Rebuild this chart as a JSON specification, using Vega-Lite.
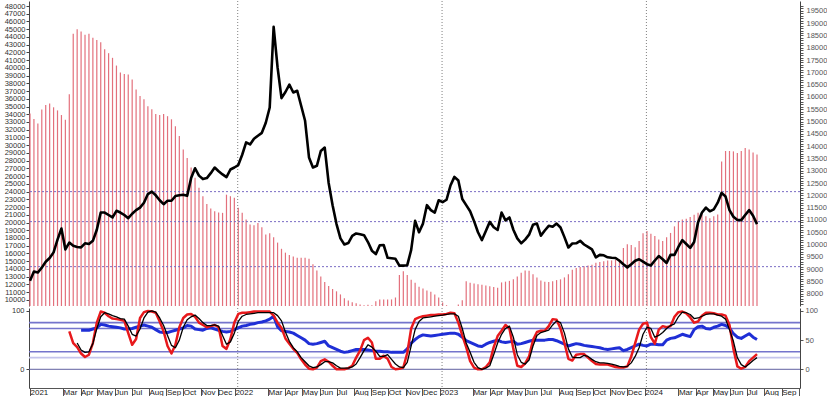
{
"$schema": "https://vega.github.io/schema/vega-lite/v6.json",
"padding": {"left": 4, "top": 0, "right": 0, "bottom": 0},
"background": "white",
"spacing": 2,
"bounds": "flush",
"config": {"view": {"stroke": null}, "font": "Liberation Sans", "axis": {"labelFont": "Liberation Sans", "grid": false, "title": null}},
"resolve": {"scale": {"x": "independent", "y": "independent"}},
"datasets": {
"w": [
{"d":"2021-01-01","v":34100,"p":8525},
{"d":"2021-01-08","v":33400,"p":8900},
{"d":"2021-01-15","v":32800,"p":8860},
{"d":"2021-01-22","v":34600,"p":9060},
{"d":"2021-01-29","v":35200,"p":9300},
{"d":"2021-02-05","v":35400,"p":9450},
{"d":"2021-02-12","v":34900,"p":9680},
{"d":"2021-02-19","v":34500,"p":10200},
{"d":"2021-02-26","v":33900,"p":10650},
{"d":"2021-03-05","v":33300,"p":9800},
{"d":"2021-03-12","v":36600,"p":10080,"r":65},
{"d":"2021-03-19","v":44400,"p":9950,"r":45},
{"d":"2021-03-26","v":45000,"p":9900,"r":38,"k":45},
{"d":"2021-04-02","v":44700,"p":9880,"r":27,"k":33,"b":67},
{"d":"2021-04-09","v":44300,"p":10050,"r":21,"k":29,"b":67},
{"d":"2021-04-16","v":44400,"p":10020,"r":25,"k":30,"b":67},
{"d":"2021-04-23","v":43900,"p":10150,"r":45,"k":44,"b":69},
{"d":"2021-04-30","v":43600,"p":10600,"r":80,"k":70,"b":71},
{"d":"2021-05-07","v":43300,"p":11300,"r":99,"k":90,"b":77},
{"d":"2021-05-14","v":42400,"p":11300,"r":97,"k":97,"b":76},
{"d":"2021-05-21","v":41900,"p":11200,"r":91,"k":95,"b":74},
{"d":"2021-05-28","v":41300,"p":11100,"r":87,"k":92,"b":73},
{"d":"2021-06-04","v":40300,"p":11370,"r":86,"k":90,"b":72},
{"d":"2021-06-11","v":39400,"p":11300,"r":85,"k":87,"b":71},
{"d":"2021-06-18","v":39200,"p":11200,"r":83,"k":86,"b":69},
{"d":"2021-06-25","v":39150,"p":11070,"r":62,"k":74,"b":69},
{"d":"2021-07-02","v":38500,"p":11250,"r":42,"k":60,"b":70},
{"d":"2021-07-09","v":37200,"p":11400,"r":52,"k":57,"b":72},
{"d":"2021-07-16","v":36350,"p":11500,"r":88,"k":69,"b":74},
{"d":"2021-07-23","v":35950,"p":11700,"r":98,"k":88,"b":76},
{"d":"2021-07-30","v":35050,"p":12050,"r":100,"k":98,"b":74},
{"d":"2021-08-06","v":34650,"p":12150,"r":99,"k":100,"b":72},
{"d":"2021-08-13","v":34050,"p":12000,"r":97,"k":98,"b":68},
{"d":"2021-08-20","v":33900,"p":11800,"r":82,"k":88,"b":64},
{"d":"2021-08-27","v":34050,"p":11640,"r":65,"k":75,"b":63},
{"d":"2021-09-03","v":33750,"p":11780,"r":40,"k":58,"b":63},
{"d":"2021-09-10","v":33350,"p":11780,"r":27,"k":41,"b":65},
{"d":"2021-09-17","v":32450,"p":11970,"r":42,"k":37,"b":67},
{"d":"2021-09-24","v":31200,"p":12000,"r":72,"k":50,"b":69},
{"d":"2021-10-01","v":29450,"p":12020,"r":88,"k":72,"b":71},
{"d":"2021-10-08","v":28350,"p":11980,"r":94,"k":85,"b":75},
{"d":"2021-10-15","v":27100,"p":12700,"r":95,"k":90,"b":74},
{"d":"2021-10-22","v":25800,"p":13100,"r":90,"k":93,"b":69},
{"d":"2021-10-29","v":24500,"p":12800,"r":80,"k":87,"b":68},
{"d":"2021-11-05","v":23400,"p":12660,"r":76,"k":80,"b":67},
{"d":"2021-11-12","v":22400,"p":12700,"r":72,"k":75,"b":70},
{"d":"2021-11-19","v":21800,"p":12900,"r":74,"k":75,"b":71},
{"d":"2021-11-26","v":21450,"p":13130,"r":76,"k":76,"b":69},
{"d":"2021-12-03","v":21300,"p":12980,"r":72,"k":74,"b":67},
{"d":"2021-12-10","v":21250,"p":12850,"r":40,"k":58,"b":65},
{"d":"2021-12-17","v":23600,"p":12740,"r":35,"k":43,"b":64},
{"d":"2021-12-24","v":23400,"p":13050,"r":52,"k":47,"b":65},
{"d":"2021-12-31","v":23200,"p":13130,"r":80,"k":62,"b":68},
{"d":"2022-01-07","v":21900,"p":13230,"r":95,"k":82,"b":71},
{"d":"2022-01-14","v":21250,"p":13650,"r":97,"k":91,"b":74},
{"d":"2022-01-21","v":20400,"p":14150,"r":97,"k":94,"b":75},
{"d":"2022-01-28","v":19750,"p":14070,"r":98,"k":95,"b":77},
{"d":"2022-02-04","v":19650,"p":14300,"r":99,"k":96,"b":78},
{"d":"2022-02-11","v":19950,"p":14420,"r":99,"k":97,"b":80},
{"d":"2022-02-18","v":19400,"p":14540,"r":99,"k":97,"b":81},
{"d":"2022-02-25","v":18450,"p":14950,"r":99,"k":97,"b":83},
{"d":"2022-03-04","v":18600,"p":15570,"r":99,"k":97,"b":86},
{"d":"2022-03-11","v":18100,"p":18850,"r":92,"k":97,"b":91},
{"d":"2022-03-18","v":17400,"p":17200,"r":80,"k":92,"b":73},
{"d":"2022-03-25","v":16600,"p":15950,"r":71,"k":83,"b":66},
{"d":"2022-04-01","v":16100,"p":16200,"r":53,"k":64,"b":65},
{"d":"2022-04-08","v":15800,"p":16500,"r":44,"k":48,"b":64},
{"d":"2022-04-15","v":15600,"p":16180,"r":35,"k":37,"b":62},
{"d":"2022-04-22","v":15450,"p":16250,"r":28,"k":30,"b":58},
{"d":"2022-04-29","v":15430,"p":15640,"r":17,"k":20,"b":54},
{"d":"2022-05-06","v":15430,"p":15030,"r":8,"k":13,"b":50},
{"d":"2022-05-13","v":15300,"p":13540,"r":1,"k":6,"b":44},
{"d":"2022-05-20","v":14600,"p":13130,"r":0,"k":3,"b":43},
{"d":"2022-05-27","v":13800,"p":13200,"r":3,"k":4,"b":44},
{"d":"2022-06-03","v":13000,"p":13800,"r":14,"k":8,"b":46},
{"d":"2022-06-10","v":12300,"p":13940,"r":17,"k":13,"b":48},
{"d":"2022-06-17","v":11800,"p":12500,"r":13,"k":13,"b":40},
{"d":"2022-06-24","v":11400,"p":11600,"r":6,"k":11,"b":37},
{"d":"2022-07-01","v":11100,"p":10830,"r":0,"k":6,"b":34},
{"d":"2022-07-08","v":10700,"p":10250,"r":0,"k":2,"b":31},
{"d":"2022-07-15","v":10200,"p":10000,"r":0,"k":2,"b":29},
{"d":"2022-07-22","v":9900,"p":10060,"r":2,"k":2,"b":30},
{"d":"2022-07-29","v":9700,"p":10350,"r":6,"k":4,"b":32},
{"d":"2022-08-05","v":9550,"p":10450,"r":20,"k":9,"b":34},
{"d":"2022-08-12","v":9400,"p":10420,"r":32,"k":20,"b":34},
{"d":"2022-08-19","v":9300,"p":10380,"r":50,"k":32,"b":34},
{"d":"2022-08-26","v":9350,"p":10100,"r":54,"k":42,"b":33},
{"d":"2022-09-02","v":9300,"p":9750,"r":46,"k":38,"b":32},
{"d":"2022-09-09","v":9800,"p":9610,"r":18,"k":31,"b":31},
{"d":"2022-09-16","v":10050,"p":9970,"r":18,"k":22,"b":31},
{"d":"2022-09-23","v":10050,"p":9980,"r":23,"k":22,"b":30},
{"d":"2022-09-30","v":10050,"p":9460,"r":18,"k":25,"b":30},
{"d":"2022-10-07","v":10050,"p":9440,"r":4,"k":17,"b":29},
{"d":"2022-10-14","v":10300,"p":9420,"r":0,"k":9,"b":29},
{"d":"2022-10-21","v":13200,"p":9140,"r":1,"k":4,"b":29},
{"d":"2022-10-28","v":13700,"p":9140,"r":3,"k":3,"b":29},
{"d":"2022-11-04","v":13200,"p":9160,"r":28,"k":12,"b":35},
{"d":"2022-11-11","v":12600,"p":9780,"r":70,"k":40,"b":45},
{"d":"2022-11-18","v":12200,"p":10960,"r":86,"k":68,"b":51},
{"d":"2022-11-25","v":11700,"p":10500,"r":89,"k":82,"b":56},
{"d":"2022-12-02","v":11450,"p":10850,"r":91,"k":88,"b":59},
{"d":"2022-12-09","v":11200,"p":11600,"r":92,"k":89,"b":58},
{"d":"2022-12-16","v":11050,"p":11400,"r":93,"k":90,"b":57},
{"d":"2022-12-23","v":10700,"p":11300,"r":93,"k":91,"b":58},
{"d":"2022-12-30","v":10300,"p":11800,"r":94,"k":92,"b":59},
{"d":"2023-01-06","v":9650,"p":11720,"r":94,"k":93,"b":60},
{"d":"2023-01-13","v":9300,"p":11820,"r":95,"k":94,"b":61},
{"d":"2023-01-20","v":9200,"p":12400,"r":97,"k":95,"b":62},
{"d":"2023-01-27","v":9200,"p":12750,"r":96,"k":95,"b":62},
{"d":"2023-02-03","v":9400,"p":12600,"r":80,"k":91,"b":60},
{"d":"2023-02-10","v":9950,"p":11850,"r":58,"k":70,"b":55},
{"d":"2023-02-17","v":12400,"p":11600,"r":38,"k":45,"b":49},
{"d":"2023-02-24","v":12200,"p":11350,"r":14,"k":29,"b":46},
{"d":"2023-03-03","v":12100,"p":10950,"r":3,"k":12,"b":43},
{"d":"2023-03-10","v":12000,"p":10500,"r":0,"k":3,"b":40},
{"d":"2023-03-17","v":11950,"p":10180,"r":0,"k":0,"b":39},
{"d":"2023-03-24","v":11850,"p":10550,"r":4,"k":2,"b":43},
{"d":"2023-03-31","v":11750,"p":10920,"r":12,"k":6,"b":46},
{"d":"2023-04-07","v":11650,"p":10700,"r":38,"k":25,"b":48},
{"d":"2023-04-14","v":11550,"p":10590,"r":57,"k":45,"b":50},
{"d":"2023-04-21","v":12250,"p":11300,"r":66,"k":60,"b":47},
{"d":"2023-04-28","v":12350,"p":10980,"r":76,"k":70,"b":46},
{"d":"2023-05-05","v":12450,"p":11100,"r":70,"k":74,"b":47},
{"d":"2023-05-12","v":12650,"p":10600,"r":35,"k":55,"b":48},
{"d":"2023-05-19","v":13000,"p":10250,"r":6,"k":25,"b":43},
{"d":"2023-05-26","v":13500,"p":10050,"r":4,"k":12,"b":44},
{"d":"2023-06-02","v":13800,"p":10200,"r":10,"k":9,"b":46},
{"d":"2023-06-09","v":13750,"p":10400,"r":22,"k":16,"b":48},
{"d":"2023-06-16","v":13300,"p":10800,"r":50,"k":40,"b":50},
{"d":"2023-06-23","v":12900,"p":10850,"r":64,"k":58,"b":50},
{"d":"2023-06-30","v":12500,"p":10360,"r":66,"k":63,"b":50},
{"d":"2023-07-07","v":12350,"p":10570,"r":66,"k":65,"b":50},
{"d":"2023-07-14","v":12300,"p":10760,"r":74,"k":67,"b":51},
{"d":"2023-07-21","v":12400,"p":10720,"r":86,"k":76,"b":51},
{"d":"2023-07-28","v":12550,"p":10850,"r":85,"k":83,"b":49},
{"d":"2023-08-04","v":12650,"p":10690,"r":70,"k":80,"b":46},
{"d":"2023-08-11","v":12900,"p":10300,"r":45,"k":62,"b":43},
{"d":"2023-08-18","v":13300,"p":9880,"r":18,"k":35,"b":40},
{"d":"2023-08-25","v":13900,"p":10040,"r":15,"k":21,"b":42},
{"d":"2023-09-01","v":14100,"p":10050,"r":25,"k":20,"b":44},
{"d":"2023-09-08","v":14250,"p":10150,"r":26,"k":20,"b":43},
{"d":"2023-09-15","v":14350,"p":10000,"r":26,"k":24,"b":41},
{"d":"2023-09-22","v":14450,"p":9900,"r":20,"k":22,"b":40},
{"d":"2023-09-29","v":14550,"p":9800,"r":14,"k":17,"b":39},
{"d":"2023-10-06","v":14800,"p":9480,"r":9,"k":13,"b":38},
{"d":"2023-10-13","v":14900,"p":9580,"r":8,"k":11,"b":37},
{"d":"2023-10-20","v":15000,"p":9560,"r":8,"k":11,"b":35},
{"d":"2023-10-27","v":15100,"p":9480,"r":8,"k":10,"b":34},
{"d":"2023-11-03","v":15100,"p":9460,"r":6,"k":9,"b":35},
{"d":"2023-11-10","v":15200,"p":9450,"r":4,"k":7,"b":36},
{"d":"2023-11-17","v":15250,"p":9340,"r":3,"k":5,"b":37},
{"d":"2023-11-24","v":16700,"p":9200,"r":3,"k":4,"b":32},
{"d":"2023-12-01","v":17200,"p":9070,"r":5,"k":5,"b":34},
{"d":"2023-12-08","v":17100,"p":9200,"r":22,"k":11,"b":37},
{"d":"2023-12-15","v":16800,"p":9340,"r":45,"k":22,"b":40},
{"d":"2023-12-22","v":17600,"p":9400,"r":68,"k":37,"b":43},
{"d":"2023-12-29","v":18600,"p":9300,"r":78,"k":60,"b":41},
{"d":"2024-01-05","v":18900,"p":9200,"r":80,"k":72,"b":40},
{"d":"2024-01-12","v":18550,"p":9150,"r":55,"k":70,"b":43},
{"d":"2024-01-19","v":18250,"p":9350,"r":44,"k":55,"b":43},
{"d":"2024-01-26","v":17800,"p":9530,"r":68,"k":58,"b":42},
{"d":"2024-02-02","v":17600,"p":9400,"r":74,"k":63,"b":42},
{"d":"2024-02-09","v":18100,"p":9250,"r":72,"k":70,"b":50},
{"d":"2024-02-16","v":18650,"p":9580,"r":74,"k":75,"b":53},
{"d":"2024-02-23","v":19500,"p":9580,"r":90,"k":78,"b":54},
{"d":"2024-03-01","v":20200,"p":9900,"r":98,"k":90,"b":57},
{"d":"2024-03-08","v":20400,"p":10180,"r":99,"k":98,"b":60},
{"d":"2024-03-15","v":20500,"p":10020,"r":96,"k":97,"b":58},
{"d":"2024-03-22","v":20700,"p":9860,"r":89,"k":94,"b":56},
{"d":"2024-03-29","v":21000,"p":10100,"r":80,"k":87,"b":68},
{"d":"2024-04-05","v":21250,"p":10900,"r":82,"k":88,"b":73},
{"d":"2024-04-12","v":21050,"p":11300,"r":92,"k":91,"b":74},
{"d":"2024-04-19","v":20800,"p":11500,"r":97,"k":94,"b":70},
{"d":"2024-04-26","v":20550,"p":11350,"r":97,"k":95,"b":69},
{"d":"2024-05-03","v":20800,"p":11430,"r":96,"k":95,"b":72},
{"d":"2024-05-10","v":21050,"p":11700,"r":94,"k":93,"b":74},
{"d":"2024-05-17","v":27900,"p":12100,"r":94,"k":91,"b":77},
{"d":"2024-05-24","v":29250,"p":11950,"r":92,"k":86,"b":75},
{"d":"2024-05-31","v":29250,"p":11400,"r":76,"k":68,"b":71},
{"d":"2024-06-07","v":29200,"p":11130,"r":35,"k":48,"b":61},
{"d":"2024-06-14","v":29000,"p":11000,"r":5,"k":20,"b":55},
{"d":"2024-06-21","v":29250,"p":10990,"r":1,"k":8,"b":53},
{"d":"2024-06-28","v":29650,"p":11200,"r":4,"k":4,"b":57},
{"d":"2024-07-05","v":29450,"p":11400,"r":14,"k":9,"b":61},
{"d":"2024-07-12","v":29050,"p":11170,"r":20,"k":15,"b":55},
{"d":"2024-07-19","v":28800,"p":10830,"r":26,"k":20,"b":51}
],
"yr": [{"d":"2022-01-06"},{"d":"2023-01-05"},{"d":"2024-01-04"}],
"ht": [{"y":12150},{"y":10930},{"y":9100}]
},
"vconcat": [
{
"width": 771, "height": 305,
"resolve": {"scale": {"y": "independent"}},
"layer": [
{"layer": [
{"data": {"name": "w"}, "mark": {"type": "rule", "color": "#e3707c", "strokeWidth": 1.2},
 "encoding": {
  "x": {"field": "d", "type": "temporal", "scale": {"type": "utc", "domain": [1609305408000, 1727965440000]}, "axis": null},
  "y": {"field": "v", "type": "quantitative", "scale": {"domain": [9200, 48650], "nice": false, "zero": false},
   "axis": {"orient": "left", "values": [10000,11000,12000,13000,14000,15000,16000,17000,18000,19000,20000,21000,22000,23000,24000,25000,26000,27000,28000,29000,30000,31000,32000,33000,34000,35000,36000,37000,38000,39000,40000,41000,42000,43000,44000,45000,46000,47000,48000],
    "format": "d", "labelFontSize": 7.5, "labelColor": "#333", "tickSize": 3, "tickColor": "#444", "domainColor": "#444", "labelPadding": 1, "labelOverlap": false, "labelFlush": false}},
  "y2": {"datum": 9200}}},
{"data": {"name": "yr"}, "mark": {"type": "rule", "color": "#808080", "strokeDash": [1, 2], "strokeWidth": 1},
 "encoding": {"x": {"field": "d", "type": "temporal", "axis": null}}}
]},
{"layer": [
{"data": {"name": "ht"}, "mark": {"type": "rule", "color": "#7a6cc4", "strokeDash": [2, 2], "strokeWidth": 1},
 "encoding": {"y": {"field": "y", "type": "quantitative", "scale": {"domain": [7500, 19900], "nice": false, "zero": false},
   "axis": {"orient": "right", "values": [7600,7700,7800,7900,8000,8100,8200,8300,8400,8500,8600,8700,8800,8900,9000,9100,9200,9300,9400,9500,9600,9700,9800,9900,10000,10100,10200,10300,10400,10500,10600,10700,10800,10900,11000,11100,11200,11300,11400,11500,11600,11700,11800,11900,12000,12100,12200,12300,12400,12500,12600,12700,12800,12900,13000,13100,13200,13300,13400,13500,13600,13700,13800,13900,14000,14100,14200,14300,14400,14500,14600,14700,14800,14900,15000,15100,15200,15300,15400,15500,15600,15700,15800,15900,16000,16100,16200,16300,16400,16500,16600,16700,16800,16900,17000,17100,17200,17300,17400,17500,17600,17700,17800,17900,18000,18100,18200,18300,18400,18500,18600,18700,18800,18900,19000,19100,19200,19300,19400,19500,19600,19700],
    "labelExpr": "datum.value % 500 === 0 ? format(datum.value, 'd') : ''",
    "tickSize": 3,
    "labelFontSize": 7.5, "labelColor": "#555", "tickColor": "#555", "domainColor": "#444", "labelPadding": 3, "labelOverlap": false, "labelFlush": false}}}},
{"data": {"name": "w"}, "mark": {"type": "line", "color": "#000000", "strokeWidth": 2.6, "strokeJoin": "round"},
 "encoding": {"x": {"field": "d", "type": "temporal", "axis": null}, "y": {"field": "p", "type": "quantitative",
   "axis": {"orient": "right", "values": [7600,7700,7800,7900,8000,8100,8200,8300,8400,8500,8600,8700,8800,8900,9000,9100,9200,9300,9400,9500,9600,9700,9800,9900,10000,10100,10200,10300,10400,10500,10600,10700,10800,10900,11000,11100,11200,11300,11400,11500,11600,11700,11800,11900,12000,12100,12200,12300,12400,12500,12600,12700,12800,12900,13000,13100,13200,13300,13400,13500,13600,13700,13800,13900,14000,14100,14200,14300,14400,14500,14600,14700,14800,14900,15000,15100,15200,15300,15400,15500,15600,15700,15800,15900,16000,16100,16200,16300,16400,16500,16600,16700,16800,16900,17000,17100,17200,17300,17400,17500,17600,17700,17800,17900,18000,18100,18200,18300,18400,18500,18600,18700,18800,18900,19000,19100,19200,19300,19400,19500,19600,19700],
    "labelExpr": "datum.value % 500 === 0 ? format(datum.value, 'd') : ''",
    "tickSize": 3,
    "labelFontSize": 7.5, "labelColor": "#555", "tickColor": "#555", "domainColor": "#444", "labelPadding": 3, "labelOverlap": false, "labelFlush": false}}}}
]}
]
},
{
"width": 771, "height": 80,
"resolve": {"scale": {"y": "independent"}},
"layer": [
{"layer": [
{"data": {"values": [{"y": 100}]}, "mark": {"type": "rule", "color": "#a8a8c8", "strokeWidth": 1},
 "encoding": {
  "x": {"field": "d", "type": "temporal", "scale": {"type": "utc", "domain": [1609305408000, 1727965440000]},
   "axis": {"orient": "bottom", "tickCount": {"interval": "month", "step": 1},
    "labelExpr": "utcmonth(datum.value) == 0 ? utcFormat(datum.value, '%Y') : ((utcmonth(datum.value) == 1 || datum.value > 1725148800000) ? '' : utcFormat(datum.value, '%b'))",
    "tickOpacity": {"condition": {"test": "utcmonth(datum.value) == 1", "value": 0}, "value": 1},
    "tickSize": 9, "tickColor": "#555", "domainColor": "#555", "labelAlign": "left", "labelBaseline": "top", "labelPadding": -9, "labelDx": 3,
    "labelFontSize": 8, "labelColor": "#222", "labelOverlap": false, "labelFlush": false}},
  "y": {"field": "y", "type": "quantitative", "scale": {"domain": [-32.1, 105.1], "nice": false, "zero": false},
   "axis": {"orient": "left", "values": [0, 50, 100], "labelFontSize": 7.5, "labelColor": "#333", "tickSize": 3, "tickColor": "#444", "domainColor": "#444", "labelPadding": 2}}}},
{"data": {"values": [{"y": 80}, {"y": 70}, {"y": 30}]}, "mark": {"type": "rule", "color": "#7474cc", "strokeWidth": 1.6},
 "encoding": {"y": {"field": "y", "type": "quantitative"}}},
{"data": {"values": [{"y": 20}]}, "mark": {"type": "rule", "color": "#c4c4ec", "strokeWidth": 1.6},
 "encoding": {"y": {"field": "y", "type": "quantitative"}}},
{"data": {"values": [{"y": 0}]}, "mark": {"type": "rule", "color": "#6060a0", "strokeWidth": 1},
 "encoding": {"y": {"field": "y", "type": "quantitative"}}},
{"data": {"name": "yr"}, "mark": {"type": "rule", "color": "#808080", "strokeDash": [1, 2], "strokeWidth": 1},
 "encoding": {"x": {"field": "d", "type": "temporal"}}},
{"data": {"name": "w"}, "mark": {"type": "line", "color": "#1f2fd6", "strokeWidth": 3, "strokeJoin": "round"},
 "encoding": {"x": {"field": "d", "type": "temporal"}, "y": {"field": "b", "type": "quantitative"}}},
{"data": {"name": "w"}, "mark": {"type": "line", "color": "#e8191c", "strokeWidth": 2.5, "strokeJoin": "round"},
 "encoding": {"x": {"field": "d", "type": "temporal"}, "y": {"field": "r", "type": "quantitative"}}}
]},
{"layer": [
{"data": {"name": "w"}, "mark": {"type": "line", "color": "#000000", "strokeWidth": 1.3, "strokeJoin": "round"},
 "encoding": {"x": {"field": "d", "type": "temporal"},
  "y": {"field": "k", "type": "quantitative", "scale": {"domain": [-32.1, 105.1], "nice": false, "zero": false},
   "axis": {"orient": "right", "values": [0, 50, 100], "labelFontSize": 7.5, "labelColor": "#555", "tickSize": 3, "tickColor": "#555", "domainColor": "#444", "labelPadding": 2}}}}
]}
]
}
]
}
